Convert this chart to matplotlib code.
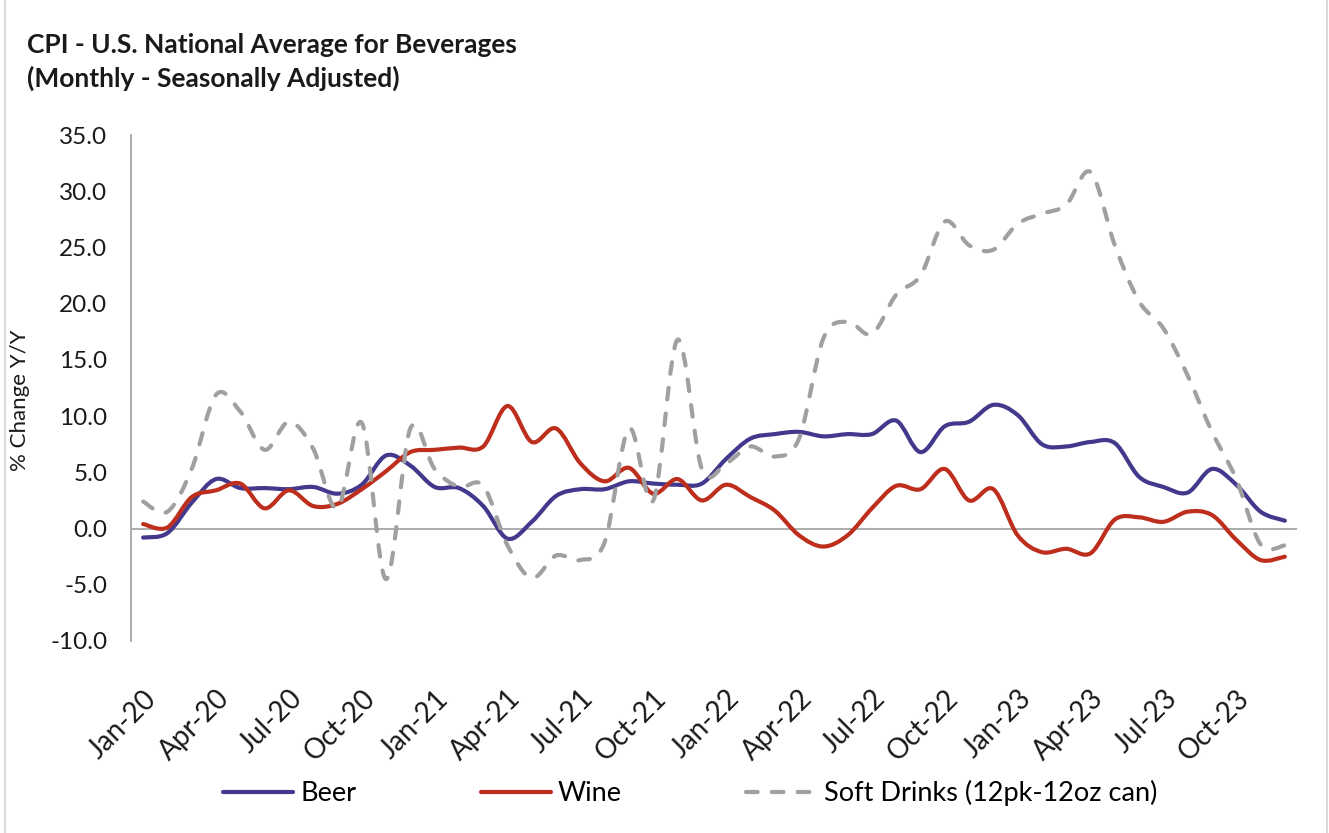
import numpy as np
import matplotlib
matplotlib.use("Agg")
import matplotlib.pyplot as plt
from matplotlib.path import Path
from matplotlib.patches import PathPatch
from matplotlib.lines import Line2D

## Data: monthly % change Y/Y, Jan-20 .. Dec-23
months = ["Jan", "Feb", "Mar", "Apr", "May", "Jun",
          "Jul", "Aug", "Sep", "Oct", "Nov", "Dec"]
years = ["20", "21", "22", "23"]
dates = [m + "-" + y for y in years for m in months]

beer = [-0.8, -0.4, 2.3, 4.4, 3.6, 3.6, 3.5, 3.7, 3.1, 3.9, 6.5, 5.6,
        3.7, 3.6, 2.0, -0.9, 0.6, 2.9, 3.5, 3.5, 4.2, 4.0, 3.9, 4.0,
        6.2, 8.0, 8.4, 8.6, 8.2, 8.4, 8.4, 9.6, 6.8, 9.1, 9.5, 11.0,
        10.1, 7.5, 7.3, 7.7, 7.6, 4.6, 3.7, 3.2, 5.3, 3.9, 1.5, 0.7]

wine = [0.4, 0.1, 2.8, 3.4, 4.0, 1.8, 3.4, 2.0, 2.2, 3.5, 5.1, 6.8,
        7.0, 7.2, 7.3, 10.9, 7.7, 8.9, 5.8, 4.2, 5.4, 3.1, 4.4, 2.5,
        3.9, 2.8, 1.6, -0.6, -1.6, -0.6, 1.8, 3.8, 3.5, 5.3, 2.5, 3.5,
        -0.6, -2.1, -1.8, -2.2, 0.8, 1.0, 0.6, 1.5, 1.2, -1.0, -2.8, -2.5]

soft = [2.4, 1.5, 5.3, 11.9, 10.4, 7.0, 9.5, 7.1, 1.8, 9.4, -4.5, 8.9,
        5.3, 3.7, 3.8, -1.5, -4.4, -2.4, -2.8, -1.2, 8.9, 2.5, 16.8, 5.3,
        5.8, 7.3, 6.4, 8.0, 16.9, 18.4, 17.3, 20.8, 22.5, 27.3, 25.2, 24.8,
        27.1, 28.0, 28.8, 31.7, 25.2, 20.2, 17.8, 13.6, 8.6, 4.4, -1.4, -1.5]

labels = ["Beer", "Wine", "Soft Drinks (12pk-12oz can)"]
colors = ["#43398C", "#BE2E1C", "#A0A0A0"]

plt.rcParams['font.family'] = ['Lato', 'DejaVu Sans']


## Smooth line like Excel (Catmull-Rom bezier through the points)
def smooth_path(x, y):
    pts = np.column_stack([x, y]).astype(float)
    n = len(pts)
    verts = [pts[0]]
    codes = [Path.MOVETO]
    for i in range(n - 1):
        p0 = pts[max(i - 1, 0)]
        p1 = pts[i]
        p2 = pts[i + 1]
        p3 = pts[min(i + 2, n - 1)]
        c1 = p1 + (p2 - p0) / 6.0
        c2 = p2 - (p3 - p1) / 6.0
        verts += [c1, c2, p2]
        codes += [Path.CURVE4] * 3
    return Path(verts, codes)


fig = plt.figure(figsize=(13.29, 8.33), dpi=100)
ax = fig.add_axes([131 / 1329, 1 - 641 / 833, (1297 - 131) / 1329, (641 - 135) / 833])

x = np.arange(len(dates))
series = [beer, wine, soft]
styles = ["-", "-", (0, (2.8, 3.4))]
order = [2, 0, 1]
for k in order:
    patch = PathPatch(smooth_path(x, series[k]), facecolor="none",
                      edgecolor=colors[k], linewidth=3.0,
                      linestyle=styles[k], capstyle="round",
                      joinstyle="round", zorder=3 + k)
    ax.add_patch(patch)

## zero line
ax.axhline(0, color="#A6A6A6", lw=1.3, zorder=2)

## Axes
ax.set_xlim(-0.5, len(dates) - 0.5)
ax.set_ylim(-10, 35)
ax.set_yticks(np.arange(-10, 36, 5))
ax.set_yticklabels(["%.1f" % v for v in np.arange(-10, 36, 5)], fontsize=17.5, color="#1A1A1A")
ax.set_xticks(x[::3])
ax.set_xticklabels(dates[::3], rotation=45, ha="right", va="top",
                   rotation_mode="anchor", fontsize=20, color="#1A1A1A")
ax.tick_params(axis="both", length=0)
ax.tick_params(axis="y", pad=17)
ax.tick_params(axis="x", pad=32)
for s in ["top", "right", "bottom"]:
    ax.spines[s].set_visible(False)
ax.spines["left"].set_color("#A6A6A6")
ax.spines["left"].set_linewidth(1.3)
ax.set_ylabel("% Change Y/Y", fontsize=16, color="#1A1A1A")
ax.yaxis.set_label_coords(-0.0866, 0.476)

## Title
fig.text(27 / 1329, 1 - 45 / 833, "CPI - U.S. National Average for Beverages",
         fontsize=19, fontweight="bold", color="#1A1A1A", va="center")
fig.text(27 / 1329, 1 - 78 / 833, "(Monthly - Seasonally Adjusted)",
         fontsize=19, fontweight="bold", color="#1A1A1A", va="center")

## Legend
handles = [Line2D([], [], color=colors[0], lw=3.0, solid_capstyle="round"),
           Line2D([], [], color=colors[1], lw=3.0, solid_capstyle="round"),
           Line2D([], [], color=colors[2], lw=3.0, linestyle=(0, (2.8, 3.4)),
                  dash_capstyle="round")]
fig.legend(handles, labels, loc="center", bbox_to_anchor=(690 / 1329, 1 - 793 / 833),
           ncol=3, frameon=False, fontsize=19.5, handlelength=2.6,
           handletextpad=0.25, columnspacing=4.6)

## border of chart area
fig.add_artist(Line2D([5 / 1329, 5 / 1329], [0, 1], color="#D9D9D9", lw=1.5))
fig.add_artist(Line2D([1327 / 1329, 1327 / 1329], [0, 1], color="#D9D9D9", lw=1.5))

plt.savefig("out.png", dpi=100)
